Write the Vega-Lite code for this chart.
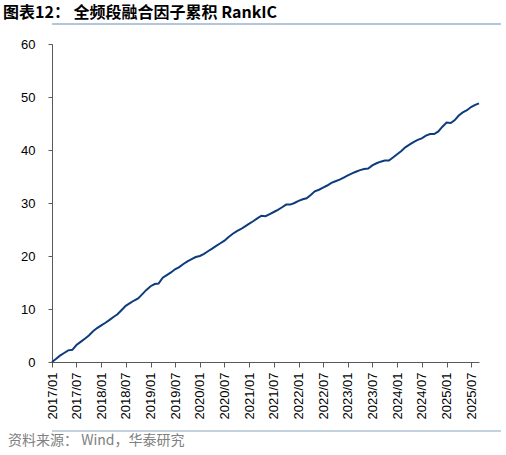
{
  "$schema": "https://vega.github.io/schema/vega-lite/v6.json",
  "padding": {"left": 2, "top": 4, "right": 2, "bottom": 2},
  "spacing": 5,
  "vconcat": [
    {
      "title": {
        "text": "图表12：    全频段融合因子累积 RankIC",
        "anchor": "start",
        "font": "Noto Sans CJK SC",
        "fontSize": 16,
        "fontWeight": "bold",
        "color": "#000000",
        "dx": -49,
        "offset": 3
      },
      "width": 449,
      "height": 8,
      "view": {"stroke": "#b4c6da", "strokeWidth": 2, "strokeDash": [449, 5000]},
      "data": {"values": []},
      "mark": "point"
    },
    {
      "width": 427,
      "height": 318,
      "data": {
        "values": [
          {"date": "2017-01-01", "ic": 0.0},
          {"date": "2017-02-01", "ic": 0.6},
          {"date": "2017-03-01", "ic": 1.2},
          {"date": "2017-04-01", "ic": 1.7},
          {"date": "2017-05-01", "ic": 2.2},
          {"date": "2017-06-01", "ic": 2.3},
          {"date": "2017-07-01", "ic": 3.2},
          {"date": "2017-08-01", "ic": 3.8},
          {"date": "2017-09-01", "ic": 4.4},
          {"date": "2017-10-01", "ic": 5.0},
          {"date": "2017-11-01", "ic": 5.8},
          {"date": "2017-12-01", "ic": 6.4},
          {"date": "2018-01-01", "ic": 6.9},
          {"date": "2018-02-01", "ic": 7.4},
          {"date": "2018-03-01", "ic": 7.9},
          {"date": "2018-04-01", "ic": 8.5},
          {"date": "2018-05-01", "ic": 9.0},
          {"date": "2018-06-01", "ic": 9.8},
          {"date": "2018-07-01", "ic": 10.6},
          {"date": "2018-08-01", "ic": 11.1},
          {"date": "2018-09-01", "ic": 11.6},
          {"date": "2018-10-01", "ic": 12.0},
          {"date": "2018-11-01", "ic": 12.8},
          {"date": "2018-12-01", "ic": 13.6},
          {"date": "2019-01-01", "ic": 14.3},
          {"date": "2019-02-01", "ic": 14.7},
          {"date": "2019-03-01", "ic": 14.8},
          {"date": "2019-04-01", "ic": 15.9},
          {"date": "2019-05-01", "ic": 16.4},
          {"date": "2019-06-01", "ic": 16.9},
          {"date": "2019-07-01", "ic": 17.5},
          {"date": "2019-08-01", "ic": 17.9},
          {"date": "2019-09-01", "ic": 18.5},
          {"date": "2019-10-01", "ic": 19.0},
          {"date": "2019-11-01", "ic": 19.4},
          {"date": "2019-12-01", "ic": 19.8},
          {"date": "2020-01-01", "ic": 20.0},
          {"date": "2020-02-01", "ic": 20.4},
          {"date": "2020-03-01", "ic": 20.9},
          {"date": "2020-04-01", "ic": 21.4},
          {"date": "2020-05-01", "ic": 21.9},
          {"date": "2020-06-01", "ic": 22.4},
          {"date": "2020-07-01", "ic": 22.9},
          {"date": "2020-08-01", "ic": 23.6},
          {"date": "2020-09-01", "ic": 24.2},
          {"date": "2020-10-01", "ic": 24.7},
          {"date": "2020-11-01", "ic": 25.1},
          {"date": "2020-12-01", "ic": 25.6},
          {"date": "2021-01-01", "ic": 26.1},
          {"date": "2021-02-01", "ic": 26.6},
          {"date": "2021-03-01", "ic": 27.1},
          {"date": "2021-04-01", "ic": 27.6},
          {"date": "2021-05-01", "ic": 27.5},
          {"date": "2021-06-01", "ic": 27.9},
          {"date": "2021-07-01", "ic": 28.3},
          {"date": "2021-08-01", "ic": 28.7},
          {"date": "2021-09-01", "ic": 29.2},
          {"date": "2021-10-01", "ic": 29.7},
          {"date": "2021-11-01", "ic": 29.7},
          {"date": "2021-12-01", "ic": 30.0},
          {"date": "2022-01-01", "ic": 30.4},
          {"date": "2022-02-01", "ic": 30.7},
          {"date": "2022-03-01", "ic": 30.9},
          {"date": "2022-04-01", "ic": 31.5},
          {"date": "2022-05-01", "ic": 32.2},
          {"date": "2022-06-01", "ic": 32.5},
          {"date": "2022-07-01", "ic": 32.9},
          {"date": "2022-08-01", "ic": 33.3},
          {"date": "2022-09-01", "ic": 33.8},
          {"date": "2022-10-01", "ic": 34.1},
          {"date": "2022-11-01", "ic": 34.4},
          {"date": "2022-12-01", "ic": 34.8},
          {"date": "2023-01-01", "ic": 35.2},
          {"date": "2023-02-01", "ic": 35.6},
          {"date": "2023-03-01", "ic": 35.9},
          {"date": "2023-04-01", "ic": 36.2},
          {"date": "2023-05-01", "ic": 36.4},
          {"date": "2023-06-01", "ic": 36.5},
          {"date": "2023-07-01", "ic": 37.1},
          {"date": "2023-08-01", "ic": 37.5},
          {"date": "2023-09-01", "ic": 37.8},
          {"date": "2023-10-01", "ic": 38.0},
          {"date": "2023-11-01", "ic": 38.0},
          {"date": "2023-12-01", "ic": 38.6},
          {"date": "2024-01-01", "ic": 39.2},
          {"date": "2024-02-01", "ic": 39.8},
          {"date": "2024-03-01", "ic": 40.5},
          {"date": "2024-04-01", "ic": 41.0},
          {"date": "2024-05-01", "ic": 41.5},
          {"date": "2024-06-01", "ic": 41.9},
          {"date": "2024-07-01", "ic": 42.2},
          {"date": "2024-08-01", "ic": 42.7},
          {"date": "2024-09-01", "ic": 43.0},
          {"date": "2024-10-01", "ic": 43.0},
          {"date": "2024-11-01", "ic": 43.5},
          {"date": "2024-12-01", "ic": 44.4},
          {"date": "2025-01-01", "ic": 45.2},
          {"date": "2025-02-01", "ic": 45.1},
          {"date": "2025-03-01", "ic": 45.6},
          {"date": "2025-04-01", "ic": 46.5},
          {"date": "2025-05-01", "ic": 47.1},
          {"date": "2025-06-01", "ic": 47.5},
          {"date": "2025-07-01", "ic": 48.1},
          {"date": "2025-08-01", "ic": 48.5},
          {"date": "2025-08-29", "ic": 48.8}
        ]
      },
      "mark": {"type": "line", "color": "#0c3c7c", "strokeWidth": 2},
      "encoding": {
        "x": {
          "field": "date",
          "type": "temporal",
          "scale": {
            "type": "utc",
            "domain": [
              {"year": 2017, "month": 1, "date": 1, "utc": true},
              {"year": 2025, "month": 8, "date": 29, "utc": true}
            ]
          },
          "axis": {
            "title": null,
            "format": "%Y/%m",
            "labelAngle": -90,
            "labelPadding": 5,
            "labelOverlap": false,
            "tickSize": 5,
            "values": [
              {"year": 2017, "month": 1, "date": 1, "utc": true},
              {"year": 2017, "month": 7, "date": 1, "utc": true},
              {"year": 2018, "month": 1, "date": 1, "utc": true},
              {"year": 2018, "month": 7, "date": 1, "utc": true},
              {"year": 2019, "month": 1, "date": 1, "utc": true},
              {"year": 2019, "month": 7, "date": 1, "utc": true},
              {"year": 2020, "month": 1, "date": 1, "utc": true},
              {"year": 2020, "month": 7, "date": 1, "utc": true},
              {"year": 2021, "month": 1, "date": 1, "utc": true},
              {"year": 2021, "month": 7, "date": 1, "utc": true},
              {"year": 2022, "month": 1, "date": 1, "utc": true},
              {"year": 2022, "month": 7, "date": 1, "utc": true},
              {"year": 2023, "month": 1, "date": 1, "utc": true},
              {"year": 2023, "month": 7, "date": 1, "utc": true},
              {"year": 2024, "month": 1, "date": 1, "utc": true},
              {"year": 2024, "month": 7, "date": 1, "utc": true},
              {"year": 2025, "month": 1, "date": 1, "utc": true},
              {"year": 2025, "month": 7, "date": 1, "utc": true}
            ]
          }
        },
        "y": {
          "field": "ic",
          "type": "quantitative",
          "scale": {"domain": [0, 60], "nice": false},
          "axis": {
            "values": [0, 10, 20, 30, 40, 50, 60],
            "title": null,
            "tickSize": 4,
            "labelPadding": 13
          }
        }
      }
    },
    {
      "title": {
        "text": "资料来源：   Wind，华泰研究",
        "orient": "bottom",
        "anchor": "start",
        "font": "Noto Sans CJK SC",
        "fontSize": 14,
        "fontWeight": "normal",
        "color": "#808080",
        "dx": -44,
        "offset": 3
      },
      "width": 449,
      "height": 6,
      "view": {"stroke": "#c4d2e0", "strokeWidth": 2, "strokeDash": [0, 455, 449, 5000]},
      "data": {"values": []},
      "mark": "point"
    }
  ],
  "config": {
    "font": "Liberation Sans",
    "view": {"stroke": null},
    "axis": {
      "grid": false,
      "domainColor": "#595959",
      "tickColor": "#595959",
      "labelColor": "#000000",
      "labelFontSize": 13,
      "labelFont": "Liberation Sans"
    }
  }
}
